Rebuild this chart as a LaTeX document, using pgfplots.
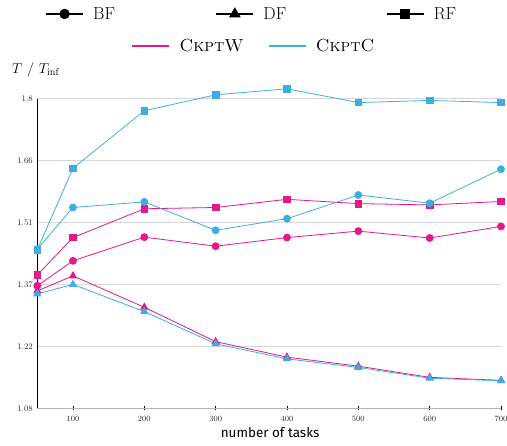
\documentclass[border=0pt]{standalone}
\usepackage{fontspec}
\newfontfamily\labelfont{Fira Sans}
\usepackage{pgfplots}
\pgfplotsset{compat=1.18}
\definecolor{cw}{HTML}{E6178A}
\definecolor{cc}{HTML}{3DAEE3}
\definecolor{gridc}{HTML}{D6D6D6}
\definecolor{xaxc}{HTML}{B4B4B4}
\pgfplotsset{
  mklegend/.style={legend image code/.code={\draw[mark repeat=2,mark phase=2] plot coordinates {(0bp,0bp) (18.5bp,0bp) (37bp,0bp)};}},
  lnlegend/.style={legend image code/.code={\draw (0bp,0bp) -- (37bp,0bp);}},
}
\begin{document}
\begin{tikzpicture}
\begin{axis}[
  at={(0,0)}, anchor=south west,
  scale only axis, width=463.7bp, height=309.6bp,
  xmin=50, xmax=700, ymin=1.08, ymax=1.8,
  clip=false,
  axis x line*=bottom, axis y line*=left,
  x axis line style={xaxc, line width=1.2pt},
  y axis line style={black, line width=1.1pt},
  xtick={100,200,300,400,500,600,700},
  ytick={1.08,1.224,1.368,1.512,1.656,1.8},
  yticklabels={1.08,1.22,1.37,1.51,1.66,1.8},
  ymajorgrids, grid style={gridc, line width=0.8pt},
  tick align=center, major tick length=4bp,
  xtick style={black, line width=0.6pt},
  ytick style={draw=none},
  tick label style={font=\fontsize{8.5}{10}\selectfont, text=black!85},
  yticklabel style={xshift=1bp},
  xticklabel style={yshift=-3bp},
  xlabel={number of tasks},
  xlabel style={font=\labelfont\fontsize{13.5}{15}\selectfont, at={(axis description cs:0.502,-0.0798)}, anchor=center},
  legend style={draw=none, fill=none, at={(axis description cs:0.462,1.2736)}, anchor=center,
    font=\fontsize{17.5}{20}\selectfont, legend columns=3},
  legend cell align=left,
]
\addlegendimage{black, line width=2.3pt, mark=*, mark size=4bp, mark options={solid}, mklegend}
\addlegendentry{\hspace{7bp}\makebox[120bp][l]{BF}}
\addlegendimage{black, line width=2.3pt, mark=triangle*, mark size=4.5bp, mklegend}
\addlegendentry{\hspace{7bp}\makebox[120bp][l]{DF}}
\addlegendimage{black, line width=2.3pt, mark=square*, mark size=3.8bp, mklegend}
\addlegendentry{\hspace{7bp}RF}

\addplot+[forget plot, cw, line width=0.8pt, mark=*, mark size=3.5bp, mark options={solid, fill=cw, draw=cw}] coordinates {(50,1.365)(100,1.423)(200,1.478)(300,1.457)(400,1.477)(500,1.492)(600,1.476)(700,1.503)};
\addplot+[forget plot, cw, line width=0.8pt, mark=triangle*, mark size=4bp, mark options={solid, fill=cw, draw=cw}] coordinates {(50,1.353)(100,1.388)(200,1.315)(300,1.235)(400,1.199)(500,1.178)(600,1.152)(700,1.145)};
\addplot+[forget plot, cw, line width=0.8pt, mark=square*, mark size=3.3bp, mark options={solid, fill=cw, draw=cw}] coordinates {(50,1.390)(100,1.477)(200,1.544)(300,1.547)(400,1.566)(500,1.556)(600,1.553)(700,1.561)};
\addplot+[forget plot, cc, line width=0.8pt, mark=*, mark size=3.5bp, mark options={solid, fill=cc, draw=cc}] coordinates {(50,1.450)(100,1.547)(200,1.560)(300,1.494)(400,1.521)(500,1.576)(600,1.557)(700,1.636)};
\addplot+[forget plot, cc, line width=0.8pt, mark=triangle*, mark size=4bp, mark options={solid, fill=cc, draw=cc}] coordinates {(50,1.346)(100,1.368)(200,1.305)(300,1.230)(400,1.195)(500,1.175)(600,1.150)(700,1.144)};
\addplot+[forget plot, cc, line width=0.8pt, mark=square*, mark size=3.3bp, mark options={solid, fill=cc, draw=cc}] coordinates {(50,1.449)(100,1.638)(200,1.772)(300,1.809)(400,1.823)(500,1.791)(600,1.796)(700,1.791)};

\node[anchor=west, font=\fontsize{14.5}{16}\selectfont, inner sep=0pt] at (axis description cs:-0.0546,1.0927) {$T$ / $T_{\mathrm{inf}}$};
\end{axis}
\begin{axis}[
  at={(0,0)}, anchor=south west,
  scale only axis, width=463.7bp, height=309.6bp,
  xmin=0, xmax=1, ymin=0, ymax=1, hide axis,
  legend style={draw=none, fill=none, at={(axis description cs:0.467,1.170)}, anchor=center,
    font=\fontsize{17.5}{20}\selectfont, legend columns=2},
  legend cell align=left,
]
\addlegendimage{cw, line width=2.3pt, lnlegend}
\addlegendentry{\hspace{7bp}\makebox[86bp][l]{\textsc{CkptW}}}
\addlegendimage{cc, line width=2.3pt, lnlegend}
\addlegendentry{\hspace{7bp}\textsc{CkptC}}
\end{axis}
\pgfresetboundingbox
\path (-37.3bp,-37.7bp) rectangle (469.7bp,408.3bp);
\end{tikzpicture}
\end{document}
